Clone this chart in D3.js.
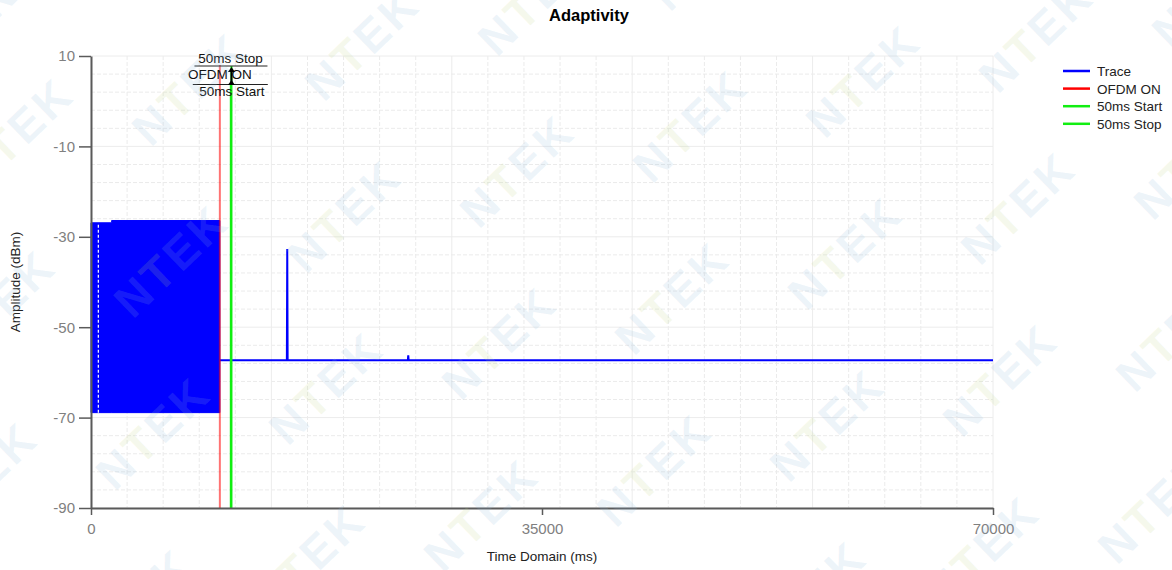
<!DOCTYPE html>
<html><head><meta charset="utf-8">
<script src="https://cdn.jsdelivr.net/npm/d3@7"></script>
<style>body{margin:0;background:#fff}svg{display:block}</style>
</head><body>
<svg id="c" width="1172" height="570"></svg>
<script>
// ---- data ----
const chartTitle = "Adaptivity";
const xLabel = "Time Domain (ms)";
const yLabel = "Amplitude (dBm)";
const xTicks = [0, 35000, 70000];
const yTicks = [10, -10, -30, -50, -70, -90];
// dense burst (0–10000 ms) as min/max envelope
const burstTime = [0, 1600, 1600, 10000];
const burstMax = [-26.9, -26.9, -26.4, -26.4];
const burstMin = [-68.9, -68.9, -68.9, -68.9];
const burstGapTime = [570];
// trace after the burst
const traceTime = [10000, 15200, 15230, 15260, 24590, 24620, 24650, 70000];
const traceValue = [-57.3, -57.3, -32.7, -57.3, -57.3, -56.2, -57.3, -57.3];
// markers
const markerNames = ["OFDM ON", "50ms Start", "50ms Stop"];
const markerTime = [10000, 10850, 10900];
// legend
const seriesNames = ["Trace", "OFDM ON", "50ms Start", "50ms Stop"];
const seriesColors = ["#0000ff", "#ff0000", "#11ee11", "#11ee11"];

// ---- layout ----
const svg = d3.select("#c");
const W = 1172, H = 570;
const L = 91, R = 993, T = 56, B = 508;
const x = d3.scaleLinear().domain([0, 70000]).range([L, R]);
const y = d3.scaleLinear().domain([-90, 10]).range([B, T]);
const font = "'Liberation Sans', Arial, sans-serif";

svg.append("rect").attr("width", W).attr("height", H).attr("fill", "#fff");

// grid
const g = svg.append("g");
const vMinor = d3.range(0, 70001, 2800), vMajor = d3.range(0, 70001, 14000);
const hMinor = d3.range(-90, 10.01, 4), hMajor = d3.range(-90, 10.01, 20);
g.selectAll(".vm").data(vMinor.filter(v => v % 14000 !== 0)).join("line")
  .attr("x1", d => x(d)).attr("x2", d => x(d)).attr("y1", T).attr("y2", B)
  .attr("stroke", "#ebebeb").attr("stroke-dasharray", "4,2");
g.selectAll(".hm").data(hMinor.filter(v => (v + 90) % 20 !== 0)).join("line")
  .attr("x1", L).attr("x2", R).attr("y1", d => y(d)).attr("y2", d => y(d))
  .attr("stroke", "#ebebeb").attr("stroke-dasharray", "4,2");
g.selectAll(".vM").data(vMajor).join("line")
  .attr("x1", d => x(d)).attr("x2", d => x(d)).attr("y1", T).attr("y2", B)
  .attr("stroke", "#ececec");
g.selectAll(".hM").data(hMajor).join("line")
  .attr("x1", L).attr("x2", R).attr("y1", d => y(d)).attr("y2", d => y(d))
  .attr("stroke", "#ececec");

// burst envelope
const burst = burstTime.map((t, i) => ({t, hi: burstMax[i], lo: burstMin[i]}));
svg.append("path").datum(burst)
  .attr("d", d3.area().x(d => x(d.t)).y0(d => y(d.lo)).y1(d => y(d.hi)))
  .attr("fill", "#0000ff").attr("stroke", "#0000ff").attr("stroke-width", 1);
svg.selectAll(".gap").data(burstGapTime).join("line")
  .attr("x1", d => x(d)).attr("x2", d => x(d))
  .attr("y1", y(burstMax[0]) + 2).attr("y2", y(burstMin[0]))
  .attr("stroke", "#fff").attr("stroke-width", 1.2).attr("stroke-dasharray", "3,2");

// trace
const trace = traceTime.map((t, i) => ({t, v: traceValue[i]}));
svg.append("path").datum(trace)
  .attr("d", d3.line().x(d => x(d.t)).y(d => y(d.v)))
  .attr("fill", "none").attr("stroke", "#0000ff").attr("stroke-width", 2);

// marker lines
svg.append("line").attr("x1", x(markerTime[0])).attr("x2", x(markerTime[0]))
  .attr("y1", 65).attr("y2", B).attr("stroke", "#ff0000").attr("stroke-opacity", 0.55).attr("stroke-width", 2);
svg.append("line").attr("x1", x(markerTime[2])).attr("x2", x(markerTime[2]))
  .attr("y1", 66).attr("y2", B).attr("stroke", seriesColors[3]).attr("stroke-width", 2);
svg.append("line").attr("x1", x(markerTime[1])).attr("x2", x(markerTime[1]))
  .attr("y1", 85).attr("y2", B).attr("stroke", seriesColors[2]).attr("stroke-width", 2);

// axes
const ax = svg.append("g").attr("transform", `translate(0,${B})`)
  .call(d3.axisBottom(x).tickValues(xTicks).tickSize(7).tickSizeOuter(0).tickFormat(d => String(d)));
const ay = svg.append("g").attr("transform", `translate(${L},0)`)
  .call(d3.axisLeft(y).tickValues(yTicks).tickSize(12).tickSizeOuter(0).tickPadding(4).tickFormat(d => String(d)));
[ax, ay].forEach(a => {
  a.select(".domain").attr("stroke", "#5a5a5a").attr("stroke-width", 2);
  a.selectAll(".tick line").attr("stroke", "#5a5a5a").attr("stroke-width", 1.5);
  a.selectAll(".tick text").attr("fill", "#808080").attr("font-family", font).attr("font-size", 15);
});
ax.selectAll(".tick text").attr("dy", "1.05em");

// axis titles
svg.append("text").attr("x", (L + R) / 2).attr("y", 561).attr("text-anchor", "middle")
  .attr("font-family", font).attr("font-size", 13.5).attr("fill", "#222").text(xLabel);
svg.append("text").attr("transform", `translate(20,${(T + B) / 2}) rotate(-90)`).attr("text-anchor", "middle")
  .attr("font-family", font).attr("font-size", 13.5).attr("fill", "#222").text(yLabel);

// title
svg.append("text").attr("x", 589).attr("y", 21).attr("text-anchor", "middle")
  .attr("font-family", font).attr("font-size", 16.5).attr("font-weight", "bold").attr("fill", "#000").text(chartTitle);

// marker annotations
const ann = svg.append("g").attr("font-family", font).attr("font-size", 13.5).attr("fill", "#111").attr("text-anchor", "middle");
const xs = x(markerTime[2]), xst = x(markerTime[1]), xo = x(markerTime[0]);
ann.append("text").attr("x", xs - 1).attr("y", 63).text(markerNames[2]);
ann.append("line").attr("x1", xs - 37).attr("x2", xs + 36).attr("y1", 66).attr("y2", 66).attr("stroke", "#222").attr("stroke-width", 1);
ann.append("text").attr("x", xo).attr("y", 79).text(markerNames[0]);
ann.append("line").attr("x1", xst - 38).attr("x2", xst + 37).attr("y1", 84.5).attr("y2", 84.5).attr("stroke", "#222").attr("stroke-width", 1);
ann.append("text").attr("x", xst + 1).attr("y", 96).text(markerNames[1]);
ann.append("line").attr("x1", xs).attr("x2", xs).attr("y1", 69).attr("y2", 84).attr("stroke", "#000").attr("stroke-width", 2);
[67, 80].forEach(ty => ann.append("path")
  .attr("d", `M${xs},${ty} L${xs - 3.5},${ty + 5} L${xs + 3.5},${ty + 5} Z`).attr("fill", "#000"));

// legend
const lg = svg.append("g").attr("font-family", font).attr("font-size", 13.5).attr("fill", "#222");
seriesNames.forEach((n, i) => {
  const ly = 71 + i * 17.6;
  lg.append("line").attr("x1", 1063).attr("x2", 1090).attr("y1", ly).attr("y2", ly)
    .attr("stroke", seriesColors[i]).attr("stroke-width", 2.5);
  lg.append("text").attr("x", 1097).attr("y", ly + 5).text(n);
});

// watermark overlay
const wm = svg.append("g").attr("pointer-events", "none");
const o = [517, 171], a = [173, -45], b = [-18, 172];
for (let i = -5; i <= 5; i++) for (let j = -3; j <= 4; j++) {
  const cx = o[0] + i * a[0] + j * b[0], cy = o[1] + i * a[1] + j * b[1];
  if (cx < -90 || cx > W + 90 || cy < -90 || cy > H + 90) continue;
  const t = wm.append("text").attr("transform", `translate(${cx},${cy}) rotate(-44)`)
    .attr("text-anchor", "middle").attr("dominant-baseline", "central")
    .attr("font-family", font).attr("font-weight", "bold").attr("font-size", 46)
    .attr("letter-spacing", 3).attr("fill", "#8fb9db").attr("fill-opacity", 0.16);
  t.append("tspan").text("N");
  t.append("tspan").attr("fill", "#bfd88a").text("T");
  t.append("tspan").text("EK");
}
</script>
</body></html>
